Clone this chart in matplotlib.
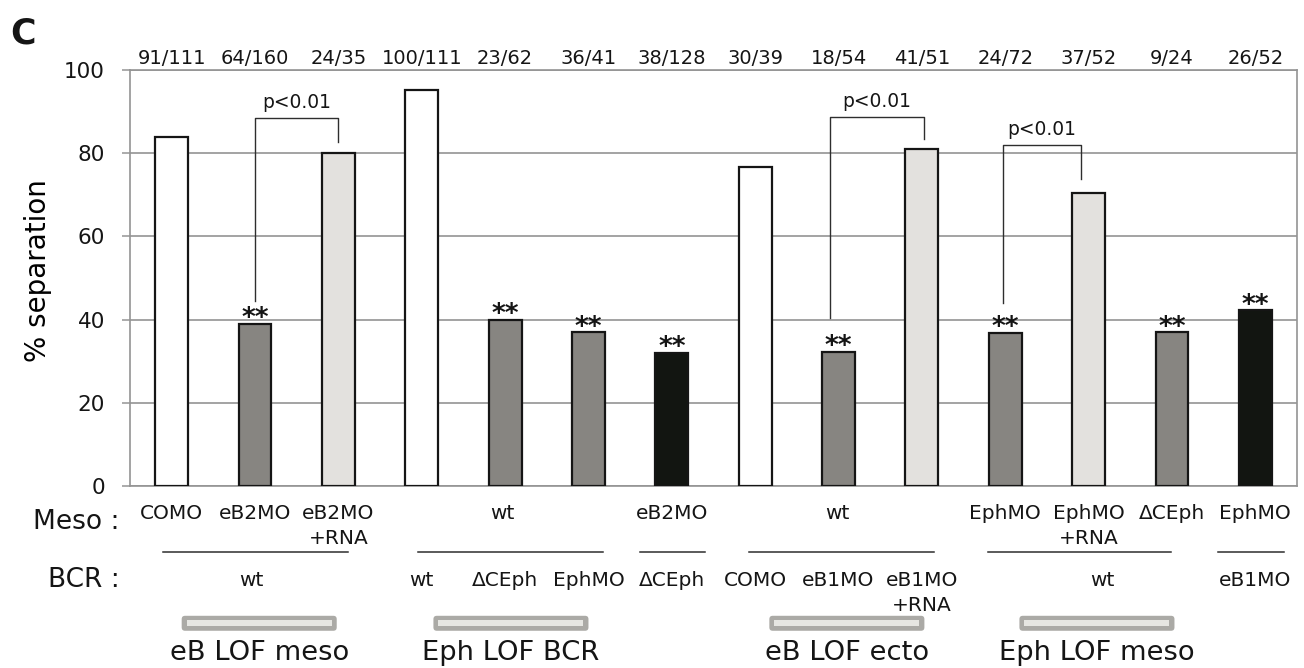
import matplotlib as mpl
mpl.use('Agg')
import matplotlib.pyplot as plt
from matplotlib.patches import FancyBboxPatch
import numpy as np

plt.rcParams['font.family'] = 'DejaVu Sans'
plt.rcParams['text.color'] = '#151515'

# data
counts = ['91/111', '64/160', '24/35', '100/111', '23/62', '36/41', '38/128',
          '30/39', '18/54', '41/51', '24/72', '37/52', '9/24', '26/52']
separation = [83.8, 39.0, 80.0, 95.1, 40.0, 36.9, 32.0,
              76.8, 32.2, 81.0, 36.8, 70.4, 36.9, 42.2]
kind = ['ctrl', 'lof', 'rescue', 'ctrl', 'lof', 'lof', 'double',
        'ctrl', 'lof', 'rescue', 'lof', 'rescue', 'lof', 'double']
stars = [False, True, False, False, True, True, True,
         False, True, False, True, False, True, True]

meso_text = ['COMO', 'eB2MO', 'eB2MO\n+RNA', 'wt', 'eB2MO', 'wt',
             'EphMO', 'EphMO\n+RNA', 'ΔCEph', 'EphMO']
meso_pos = [0, 1, 2, 3.97, 6, 7.99, 10, 11, 12, 13]
bcr_text = ['wt', 'wt', 'ΔCEph', 'EphMO', 'ΔCEph', 'COMO', 'eB1MO',
            'eB1MO\n+RNA', 'wt', 'eB1MO']
bcr_pos = [0.96, 3, 4, 5, 6, 7, 8, 9, 11.17, 13]
spans = [(-0.1, 2.11), (2.95, 5.17), (5.62, 6.4), (6.93, 9.15),
         (9.79, 11.99), (12.55, 13.35)]

groups = ['eB LOF meso', 'Eph LOF BCR', 'eB LOF ecto', 'Eph LOF meso']
group_pos = [1.05, 4.07, 8.1, 11.1]

# brackets: x left, x right, y left end, y top, y right end
brackets = [(1.0, 2.0, 44.4, 88.4, 82.7),
            (7.9, 9.02, 40.5, 88.7, 83.5),
            (9.97, 10.91, 44.1, 81.9, 73.7)]

colors = {'ctrl': 'white', 'lof': '#878581', 'rescue': '#e3e1de', 'double': '#121511'}

fig = plt.figure(figsize=(13.04, 6.68), dpi=100)
ax = fig.add_axes([130/1304, 1-486/668, 1167/1304, 416/668])

x = np.arange(len(separation))
ax.bar(x, separation, width=0.395, color=[colors[k] for k in kind],
       edgecolor='#151515', linewidth=1.6, zorder=3)

ax.set_xlim(-0.5, 13.5)
ax.set_ylim(0, 100)
ax.set_yticks([0, 20, 40, 60, 80, 100])
ax.set_xticks([])
ax.yaxis.grid(True, color='#8a8a8a', linewidth=1.1)
ax.set_axisbelow(True)
for s in ax.spines.values():
    s.set_color('#949494')
    s.set_linewidth(1.2)
ax.tick_params(axis='y', length=6, width=1.1, color='#949494', pad=12,
               labelsize=15.5, labelcolor='#151515')
ax.set_ylabel('% separation', fontsize=20)
ax.yaxis.set_label_coords(-0.067, 0.519)

# stars on bars
for xi, v, s in zip(x, separation, stars):
    if s:
        ax.annotate('**', (xi, v), xytext=(0, -1.5), textcoords='offset points',
                    ha='center', va='baseline', fontsize=19, fontweight='bold',
                    zorder=4)

# counts above the plot
for xi, c in zip(x, counts):
    ax.text(xi, 101.5, c, ha='center', va='baseline', fontsize=14)

# significance brackets
for x0, x1, y0, yt, y1 in brackets:
    ax.plot([x0, x0, x1, x1], [y0, yt, yt, y1], color='#2e2e2e', lw=1.0,
            zorder=4, clip_on=False)
    ax.text((x0 + x1) / 2, yt + 1.4, 'p<0.01', ha='center', va='bottom',
            fontsize=13.4)


def row_label(p, y, t):
    # one text per line, 25 px (6 units) apart
    for i, line in enumerate(t.split('\n')):
        ax.text(p, y - 6.0 * i, line, ha='center', va='baseline',
                fontsize=14.5)


# condition rows under the axis
ax.text(-0.62, -10.3, 'Meso :', ha='right', va='baseline', fontsize=19)
ax.text(-0.62, -24.3, 'BCR :', ha='right', va='baseline', fontsize=19)
for p, t in zip(meso_pos, meso_text):
    row_label(p, -7.9, t)
for p, t in zip(bcr_pos, bcr_text):
    row_label(p, -24.1, t)
for a, b in spans:
    ax.plot([a, b], [-15.9, -15.9], color='#2e2e2e', lw=1.1, clip_on=False)

# grey group bars and names
asp = (1167/14) / 4.16
for c, g in zip(group_pos, groups):
    outer = FancyBboxPatch((c - 0.93, -34.8), 1.86, 3.6,
                           boxstyle='round,pad=0,rounding_size=0.04',
                           mutation_aspect=asp, facecolor='#abaaa6',
                           edgecolor='none', clip_on=False)
    ax.add_patch(outer)
    ax.add_patch(plt.Rectangle((c - 0.87, -33.7), 1.74, 1.4,
                               facecolor='#e6e6e2', edgecolor='none',
                               clip_on=False))
    ax.text(c, -41.8, g, ha='center', va='baseline', fontsize=19.7)

fig.text(10/1304, 1-43/668, 'C', fontsize=25, fontweight='bold',
         ha='left', va='baseline')

plt.savefig('out.png', dpi=100)
